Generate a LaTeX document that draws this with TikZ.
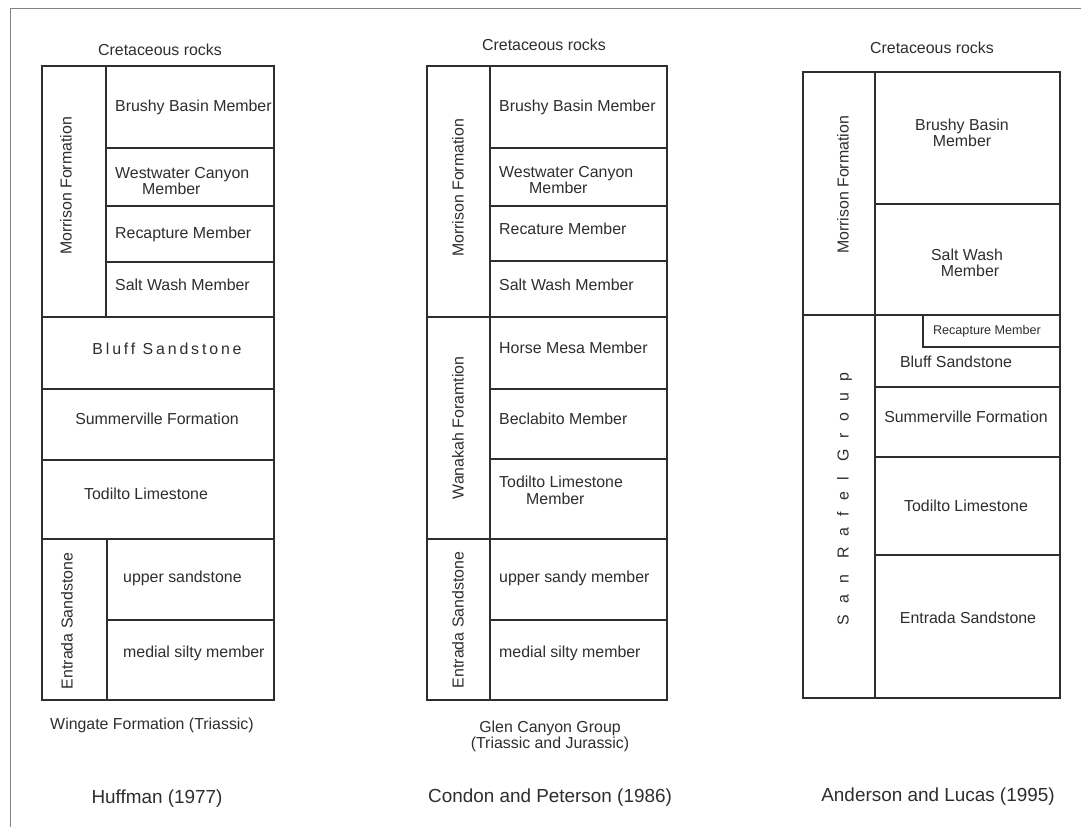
\documentclass[tikz,border=0pt]{standalone}
\usepackage{fontspec}
\setmainfont{Liberation Sans}
\definecolor{ink}{HTML}{2E2E2E}
\newcommand\lblfont{\fontsize{15.9}{18}\selectfont}
\newcommand\titlefont{\fontsize{18.9}{22}\selectfont}
\newcommand\smallfont{\fontsize{12.6}{14}\selectfont}
\begin{document}
\begin{tikzpicture}[x=1pt,y=-1pt,
  box/.style={draw=ink,line width=1.2pt},
  lbl/.style={text=ink,inner sep=0pt,font=\lblfont,text height=11.4pt,text depth=0pt},
  lw/.style={lbl,anchor=west},
  rot/.style={lbl,rotate=90},
  titlelbl/.style={text=ink,inner sep=0pt,font=\titlefont,text height=13.5pt,text depth=0pt},
  spaced/.style={lbl,font=\lblfont\addfontfeature{LetterSpace=18}},
  wide/.style={lbl,font=\lblfont\addfontfeature{LetterSpace=70}},
  tiny/.style={text=ink,inner sep=0pt,font=\smallfont,text height=9pt,text depth=0pt}]
\fill[white] (0,0) rectangle (1081,827);
\useasboundingbox (0,0) rectangle (1081,827);
\draw[ink!60,line width=1pt] (1081,8) -- (10,8) -- (10,827);

% ---------- Column 1: Huffman (1977)
\draw[box] (42,66) rectangle (106,317);
\draw[box] (106,66) rectangle (274,148);
\draw[box] (106,148) rectangle (274,206);
\draw[box] (106,206) rectangle (274,262);
\draw[box] (106,262) rectangle (274,317);
\draw[box] (42,317) rectangle (274,389);
\draw[box] (42,389) rectangle (274,460);
\draw[box] (42,460) rectangle (274,539);
\draw[box] (42,539) rectangle (107,700);
\draw[box] (107,539) rectangle (274,620);
\draw[box] (107,620) rectangle (274,700);

\node[lbl] (a0) at (160,50) {Cretaceous rocks};
\node[lw] (a1) at (115,106) {Brushy Basin Member};
\node[lw] (a2) at (115,173) {Westwater Canyon};
\node[lw] (a2b) at (142,189) {Member};
\node[lw] (a3) at (115,233) {Recapture Member};
\node[lw] (a4) at (115,285) {Salt Wash Member};
\node[spaced] (a5) at (167,349) {Bluff Sandstone};
\node[lbl] (a6) at (157,419) {Summerville Formation};
\node[lbl] (a7) at (146,494) {Todilto Limestone};
\node[lw] (a8) at (123,577) {upper sandstone};
\node[lw] (a9) at (123,652) {medial silty member};
\node[rot] (am) at (66,186) {Morrison Formation};
\node[rot] (ae) at (67,621) {Entrada Sandstone};
\node[lbl] (aw) at (152,724) {Wingate Formation (Triassic)};
\node[titlelbl] (at) at (157,797) {Huffman (1977)};

% ---------- Column 2: Condon and Peterson (1986)
\draw[box] (427,66) rectangle (490,317);
\draw[box] (490,66) rectangle (667,148);
\draw[box] (490,148) rectangle (667,206);
\draw[box] (490,206) rectangle (667,261);
\draw[box] (490,261) rectangle (667,317);
\draw[box] (427,317) rectangle (490,539);
\draw[box] (490,317) rectangle (667,389);
\draw[box] (490,389) rectangle (667,459);
\draw[box] (490,459) rectangle (667,539);
\draw[box] (427,539) rectangle (490,700);
\draw[box] (490,539) rectangle (667,620);
\draw[box] (490,620) rectangle (667,700);

\node[lbl] (b0) at (544,45) {Cretaceous rocks};
\node[lw] (b1) at (499,106) {Brushy Basin Member};
\node[lw] (b2) at (499,172) {Westwater Canyon};
\node[lw] (b2b) at (529,188) {Member};
\node[lw] (b3) at (499,229) {Recature Member};
\node[lw] (b4) at (499,285) {Salt Wash Member};
\node[lw] (b5) at (499,348) {Horse Mesa Member};
\node[lw] (b6) at (499,419) {Beclabito Member};
\node[lw] (b7) at (499,482) {Todilto Limestone};
\node[lw] (b7b) at (526,499) {Member};
\node[lw] (b8) at (499,577) {upper sandy member};
\node[lw] (b9) at (499,652) {medial silty member};
\node[rot] (bm) at (458,188) {Morrison Formation};
\node[rot] (bk) at (458,428) {Wanakah Foramtion};
\node[rot] (be) at (458,620) {Entrada Sandstone};
\node[lbl] (bg) at (550,727) {Glen Canyon Group};
\node[lbl] (bg2) at (550,743) {(Triassic and Jurassic)};
\node[titlelbl] (bt) at (550,796) {Condon and Peterson (1986)};

% ---------- Column 3: Anderson and Lucas (1995)
\draw[box] (803,72) rectangle (875,315);
\draw[box] (875,72) rectangle (1060,204);
\draw[box] (875,204) rectangle (1060,315);
\draw[box] (803,315) rectangle (875,698);
\draw[box] (875,315) rectangle (1060,387);
\draw[box] (923,315) rectangle (1060,347);
\draw[box] (875,387) rectangle (1060,457);
\draw[box] (875,457) rectangle (1060,555);
\draw[box] (875,555) rectangle (1060,698);

\node[lbl] (c0) at (932,48) {Cretaceous rocks};
\node[lbl] (c1) at (962,125) {Brushy Basin};
\node[lbl] (c1b) at (962,141) {Member};
\node[lbl] (c2) at (967,255) {Salt Wash};
\node[lbl] (c2b) at (970,271) {Member};
\node[tiny] (c3) at (987,330) {Recapture Member};
\node[lbl] (c4) at (956,362) {Bluff Sandstone};
\node[lbl] (c5) at (966,417) {Summerville Formation};
\node[lbl] (c6) at (966,506) {Todilto Limestone};
\node[lbl] (c7) at (968,618) {Entrada Sandstone};
\node[rot] (cm) at (843,185) {Morrison Formation};
\node[wide,rotate=90] (cs) at (843,499) {San Rafel Group};
\node[titlelbl] (ct) at (938,795) {Anderson and Lucas (1995)};
\end{tikzpicture}
\end{document}
